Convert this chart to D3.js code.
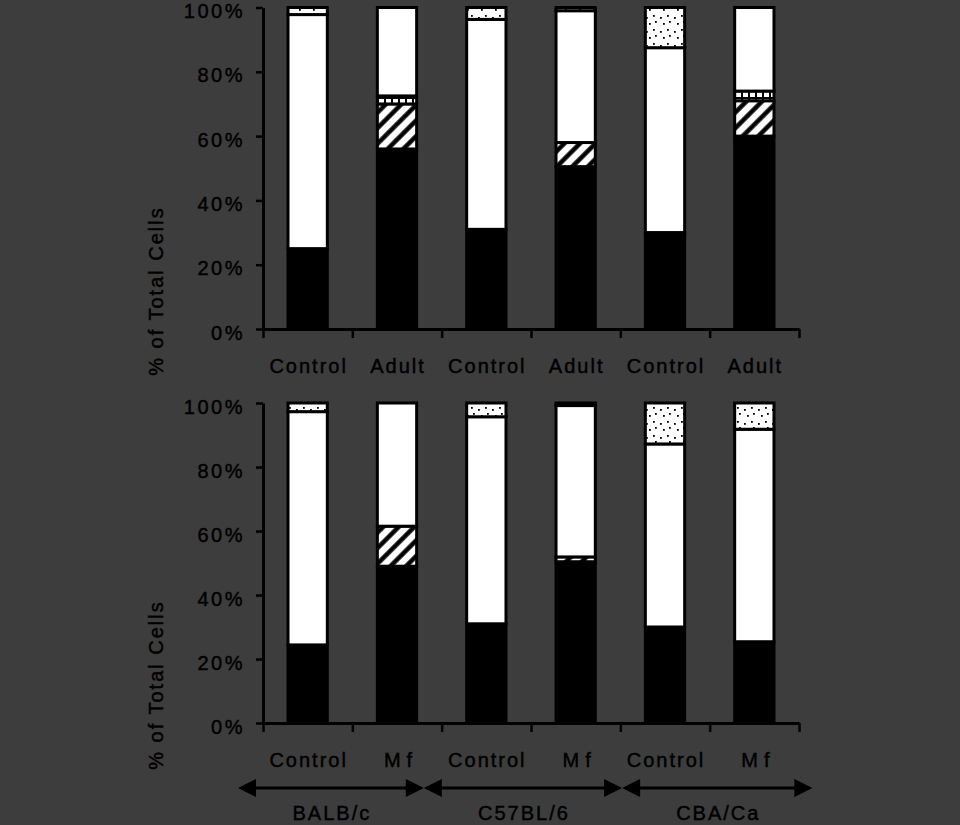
<!DOCTYPE html>
<html>
<head>
<meta charset="utf-8">
<script src="https://cdn.jsdelivr.net/npm/d3@7/dist/d3.min.js"></script>
<style>
  body { margin: 0; background: #3d3d3d; }
  svg text { font-family: "Liberation Sans", Arial, sans-serif; font-size: 20px; letter-spacing: 2px; fill: #000; stroke: #000; stroke-width: 0.45px; }
</style>
</head>
<body>
<div id="chart"></div>
<script>
// strains and bar labels
const strains = ["BALB/c", "C57BL/6", "CBA/Ca"];
const topLabels = ["Control", "Adult", "Control", "Adult", "Control", "Adult"];
const bottomLabels = ["Control", "Mf", "Control", "Mf", "Control", "Mf"];
const yTicks = [0, 20, 40, 60, 80, 100];

// segment order from the bottom of each bar
const keys = ["solid", "hatched", "checked", "open", "dotted"];

// top panel (% of total cells)
const topSolid   = [25, 56, 31, 50.5, 30, 60];
const topHatched = [0, 14, 0, 7.5, 0, 11];
const topChecked = [0, 2.5, 0, 0, 0, 3];
const topOpen    = [72.8, 27.5, 65.3, 41, 57.5, 26];
const topDotted  = [2.2, 0, 3.7, 1, 12.5, 0];

// bottom panel
const botSolid   = [24.4, 49, 31, 50.4, 30, 25.4];
const botHatched = [0, 12.5, 0, 1.5, 0, 0];
const botChecked = [0, 0, 0, 0, 0, 0];
const botOpen    = [72.9, 38.5, 64.7, 47.3, 57.2, 66.4];
const botDotted  = [2.7, 0, 4.3, 0.8, 12.8, 8.2];

// strain arrows, in bar-slot units along the x axis
const strainSpans = [[-0.28, 1.8], [1.8, 4.02], [4.02, 6.15]];

const width = 960, height = 825;

const svg = d3.select("#chart").append("svg")
    .attr("width", width)
    .attr("height", height);

// fill patterns
const defs = svg.append("defs");

const hatch = defs.append("pattern")
    .attr("id", "hatch")
    .attr("patternUnits", "userSpaceOnUse")
    .attr("width", 11).attr("height", 11)
    .attr("patternTransform", "rotate(45)");
hatch.append("rect").attr("width", 11).attr("height", 11).attr("fill", "#fff");
hatch.append("line")
    .attr("x1", 5.5).attr("y1", 0).attr("x2", 5.5).attr("y2", 11)
    .attr("stroke", "#000").attr("stroke-width", 4.5);

const check = defs.append("pattern")
    .attr("id", "check")
    .attr("patternUnits", "userSpaceOnUse")
    .attr("width", 7).attr("height", 7);
check.append("rect").attr("width", 7).attr("height", 7).attr("fill", "#000");
check.append("rect").attr("x", 1).attr("y", 1).attr("width", 5).attr("height", 5).attr("fill", "#fff");

const dots = defs.append("pattern")
    .attr("id", "dots")
    .attr("patternUnits", "userSpaceOnUse")
    .attr("width", 14).attr("height", 14);
dots.append("rect").attr("width", 14).attr("height", 14).attr("fill", "#fff");
[[2, 3], [9, 1], [5, 9], [11, 7]].forEach(p => {
    dots.append("rect").attr("x", p[0]).attr("y", p[1])
        .attr("width", 1.8).attr("height", 1.8).attr("fill", "#000");
});

const fills = {
    solid: "#000",
    hatched: "url(#hatch)",
    checked: "url(#check)",
    open: "#fff",
    dotted: "url(#dots)"
};

const x = d3.scaleLinear().domain([0, 6]).range([263, 799]);
const slot = x(1) - x(0);
const barW = slot * 0.44;

const panels = [
    {labels: topLabels, top: 7.5, bottom: 329,
     series: [topSolid, topHatched, topChecked, topOpen, topDotted]},
    {labels: bottomLabels, top: 403, bottom: 723,
     series: [botSolid, botHatched, botChecked, botOpen, botDotted]}
];

panels.forEach(p => {
    const y = d3.scaleLinear().domain([0, 100]).range([p.bottom, p.top]);

    const rows = p.labels.map((l, i) => {
        const r = {index: i};
        keys.forEach((k, j) => r[k] = p.series[j][i]);
        return r;
    });
    const stacked = d3.stack().keys(keys)(rows);

    const g = svg.append("g");

    // bars
    stacked.forEach(layer => {
        g.append("g")
            .selectAll("rect")
            .data(layer.filter(d => d[1] - d[0] > 0))
            .enter()
            .append("rect")
            .attr("x", d => x(d.data.index + 0.5) - barW / 2)
            .attr("y", d => y(d[1]))
            .attr("width", barW)
            .attr("height", d => y(d[0]) - y(d[1]))
            .attr("fill", fills[layer.key])
            .attr("stroke", "#000")
            .attr("stroke-width", 3);
    });

    // y axis
    const yAxis = g.append("g")
        .attr("transform", "translate(" + x(0) + ",0)")
        .call(d3.axisLeft(y).tickValues(yTicks).tickFormat(d => d + "%")
            .tickSize(7).tickSizeOuter(0).tickPadding(11));
    yAxis.select(".domain").attr("stroke-width", 3);
    yAxis.selectAll(".tick line").attr("stroke-width", 2.5);
    yAxis.selectAll(".tick text")
        .attr("font-family", null).attr("font-size", null).attr("fill", null)
        .attr("dy", "0.5em")
        .style("letter-spacing", "2.5px");

    // x axis (ticks at slot boundaries)
    const xAxis = g.append("g")
        .attr("transform", "translate(0," + p.bottom + ")")
        .call(d3.axisBottom(x).tickValues(d3.range(7)).tickFormat("")
            .tickSize(9).tickSizeOuter(0));
    xAxis.select(".domain").attr("stroke-width", 3);
    xAxis.selectAll(".tick line").attr("stroke-width", 2.5);

    // category labels
    g.append("g")
        .selectAll("text")
        .data(p.labels)
        .enter()
        .append("text")
        .attr("x", (d, i) => x(i + 0.5) + (d === "Mf" ? 4 : 1))
        .attr("y", p.bottom + 44)
        .attr("text-anchor", "middle")
        .style("letter-spacing", d => d === "Mf" ? "6px" : null)
        .text(d => d);

    // y title
    g.append("text")
        .attr("transform", "translate(163," + (p.bottom - 38) + ") rotate(-90)")
        .attr("text-anchor", "middle")
        .text("% of Total Cells");
});

// strain arrows under the bottom panel
const arrowY = 788;
const head = 18, half = 9;
const ag = svg.append("g");

strainSpans.forEach((s, i) => {
    const a = x(s[0]), b = x(s[1]);
    ag.append("line")
        .attr("x1", a + 4).attr("x2", b - 4)
        .attr("y1", arrowY).attr("y2", arrowY)
        .attr("stroke", "#000").attr("stroke-width", 3);
    ag.append("path")
        .attr("d", `M${a},${arrowY}L${a + head},${arrowY - half}L${a + head},${arrowY + half}Z`)
        .attr("fill", "#000");
    ag.append("path")
        .attr("d", `M${b},${arrowY}L${b - head},${arrowY - half}L${b - head},${arrowY + half}Z`)
        .attr("fill", "#000");
    ag.append("text")
        .attr("x", (a + b) / 2 + 1)
        .attr("y", 820)
        .attr("text-anchor", "middle")
        .text(strains[i]);
});
</script>
</body>
</html>
